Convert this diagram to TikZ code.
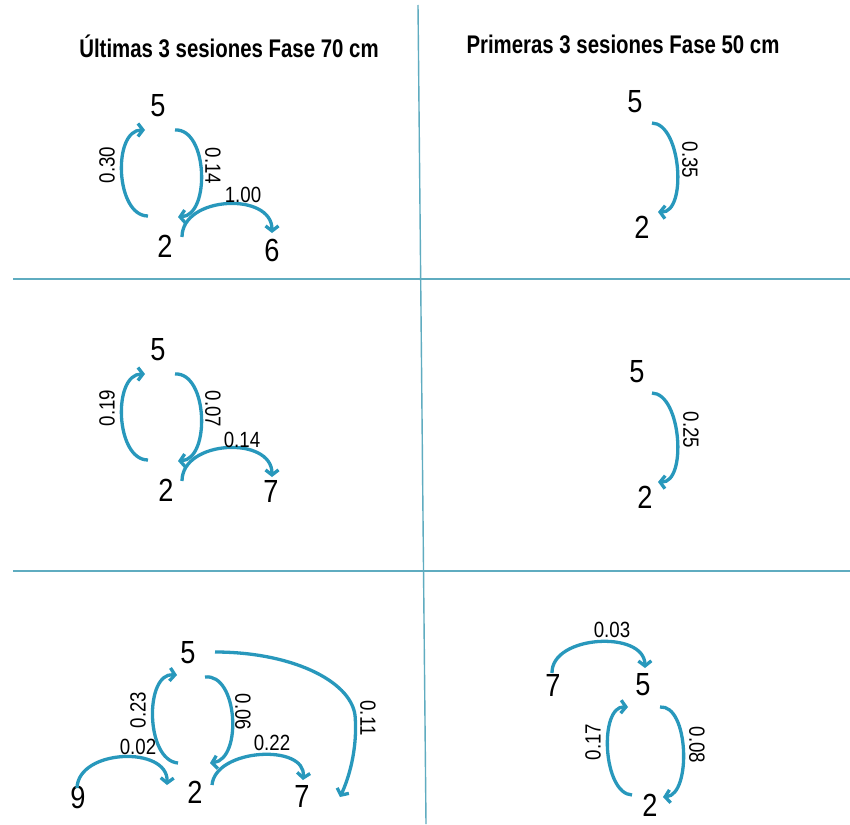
\documentclass[tikz,border=0pt]{standalone}
\usepackage{fontspec}
\usetikzlibrary{arrows.meta}
\newfontfamily\narrowsans[FakeStretch=0.85]{Liberation Sans}
\newfontfamily\titlesans[FakeStretch=0.8]{Liberation Sans}
\definecolor{arcblue}{RGB}{40,152,188}
\definecolor{divline}{RGB}{95,172,192}
\begin{document}
\begin{tikzpicture}[x=1pt,y=-1pt,
  digit/.style={inner sep=0pt,font=\narrowsans\fontsize{32}{36}\selectfont},
  lab/.style={inner sep=0pt,font=\narrowsans\fontsize{22}{26}\selectfont},
  labup/.style={lab,rotate=90},
  labdown/.style={lab,rotate=-90},
  ttl/.style={inner sep=0pt,font=\titlesans\fontsize{25.5}{29}\selectfont\bfseries},
  flow/.style={draw=arcblue,line width=3.3pt,-{Straight Barb[length=5pt,width=13pt]}},
  divider/.style={draw=divline,line width=1.4pt}]
\useasboundingbox (0,0) rectangle (850,824);
\fill[white] (0,0) rectangle (850,824);

% dividers
\coordinate (h1a) at (13,279); \coordinate (h1b) at (850,279);
\coordinate (h2a) at (13,571); \coordinate (h2b) at (850,571);
\coordinate (va) at (418,5); \coordinate (vb) at (426,824);
\draw[divider] (h1a) -- (h1b);
\draw[divider] (h2a) -- (h2b);
\draw[divider] (va) -- (vb);

% titles
\node[ttl] (t1) at (229,46) {Últimas 3 sesiones Fase 70 cm};
\node[ttl] (t2) at (623,44) {Primeras 3 sesiones Fase 50 cm};

% ---------- Panel A ----------
\node[digit] (a5) at (158,106) {5};
\node[digit] (a2) at (165,246) {2};
\node[digit] (a6) at (272,250) {6};
\coordinate (a1s) at (148,216); \coordinate (a1e) at (145,130);
\coordinate (a2s) at (175,130); \coordinate (a2e) at (178,217);
\coordinate (a3s) at (182,237); \coordinate (a3e) at (272,233);
\draw[flow] (a1s) .. controls (115.3,216) and (112.3,130) .. (a1e);
\draw[flow] (a2s) .. controls (207.7,128) and (210.7,215) .. (a2e);
\draw[flow] (a3s) .. controls (182,195.7) and (272,191.7) .. (a3e);
\node[labup] (la1) at (107,165) {0.30};
\node[labdown] (la2) at (213,166) {0.14};
\node[lab] (la3) at (243,195) {1.00};

% ---------- Panel B ----------
\node[digit] (b5) at (635,102) {5};
\node[digit] (b2) at (642,227) {2};
\coordinate (b1s) at (652,123); \coordinate (b1e) at (658,212);
\draw[flow] (b1s) .. controls (681.3,123.7) and (687.3,212.7) .. (b1e);
\node[labdown] (lb1) at (690,160) {0.35};

% ---------- Panel C ----------
\node[digit] (c5) at (158,350) {5};
\node[digit] (c2) at (166,490) {2};
\node[digit] (c7) at (271,491) {7};
\coordinate (c1s) at (148,460); \coordinate (c1e) at (145,374);
\coordinate (c2s) at (175,374); \coordinate (c2e) at (178,461);
\coordinate (c3s) at (182,481); \coordinate (c3e) at (272,477);
\draw[flow] (c1s) .. controls (115.3,460) and (112.3,374) .. (c1e);
\draw[flow] (c2s) .. controls (207.7,372) and (210.7,459) .. (c2e);
\draw[flow] (c3s) .. controls (182,439.7) and (272,435.7) .. (c3e);
\node[labup] (lc1) at (107,408) {0.19};
\node[labdown] (lc2) at (213,409) {0.07};
\node[lab] (lc3) at (242,440) {0.14};

% ---------- Panel D ----------
\node[digit] (d5) at (637,372) {5};
\node[digit] (d2) at (645,497) {2};
\coordinate (d1s) at (652,393); \coordinate (d1e) at (658,482);
\draw[flow] (d1s) .. controls (681.3,393.7) and (687.3,482.7) .. (d1e);
\node[labdown] (ld1) at (691,430) {0.25};

% ---------- Panel E ----------
\node[digit] (e5) at (188,653) {5};
\node[digit] (e2) at (195,792) {2};
\node[digit] (e9) at (78,797) {9};
\node[digit] (e7) at (302,796) {7};
\coordinate (e1s) at (178,763); \coordinate (e1e) at (177,675);
\coordinate (e2s) at (205,677); \coordinate (e2e) at (210,763);
\coordinate (e3s) at (77,788); \coordinate (e3e) at (167,785);
\coordinate (e4s) at (212,785); \coordinate (e4e) at (303,780);
\coordinate (e5s) at (215,652); \coordinate (e5m) at (355,715); \coordinate (e5e) at (340,797);
\draw[flow] (e1s) .. controls (145.3,760.3) and (144.3,672.3) .. (e1e);
\draw[flow] (e2s) .. controls (237.7,673) and (242.7,759) .. (e2e);
\draw[flow] (e3s) .. controls (78.3,748.7) and (168.3,745.7) .. (e3e);
\draw[flow] (e4s) .. controls (215.3,748.3) and (306.3,743.3) .. (e4e);
\draw[flow] (e5s) .. controls (290,652) and (350,680) .. (e5m)
               .. controls (358,750) and (348,780) .. (e5e);
\node[labup] (le1) at (138,710) {0.23};
\node[lab] (le3) at (138,747) {0.02};
\node[labdown] (le2) at (243,712) {0.06};
\node[lab] (le4) at (272,743) {0.22};
\node[labdown] (le5) at (368,718) {0.11};

% ---------- Panel F ----------
\node[digit] (f7) at (553,685) {7};
\node[digit] (f5) at (643,685) {5};
\node[digit] (f2) at (650,805) {2};
\coordinate (f1s) at (552,673); \coordinate (f1e) at (645,668);
\coordinate (f2s) at (632,795); \coordinate (f2e) at (628,707);
\coordinate (f3s) at (660,707); \coordinate (f3e) at (663,797);
\draw[flow] (f1s) .. controls (551.3,635) and (644.3,630) .. (f1e);
\draw[flow] (f2s) .. controls (602.7,793.7) and (598.7,705.7) .. (f2e);
\draw[flow] (f3s) .. controls (688.7,704.3) and (691.7,794.3) .. (f3e);
\node[lab] (lf1) at (612,630) {0.03};
\node[labup] (lf2) at (593,742) {0.17};
\node[labdown] (lf3) at (697,745) {0.08};
\end{tikzpicture}
\end{document}
